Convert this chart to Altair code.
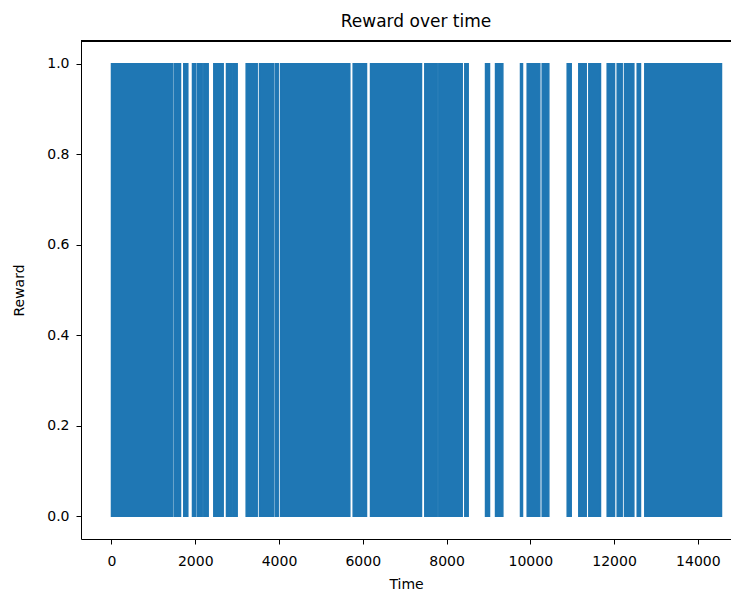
import altair as alt
import pandas as pd

# Time intervals where the reward signal flips densely between 0 and 1
block_start = [0, 1504, 1726, 1934, 2054, 2204, 2443, 2746, 2896, 3216, 3534, 3916,
               4035, 5771, 6185, 7481, 7815, 8436, 8931, 9170, 9766, 9926, 10284,
               10881, 11158, 11397, 11836, 12075, 12249, 12553, 12734]
block_end = [1464, 1648, 1822, 2013, 2166, 2309, 2667, 2865, 3001, 3479, 3875, 3981,
             5690, 6089, 7402, 7777, 8374, 8517, 9026, 9344, 9814, 10227, 10442,
             10977, 11335, 11676, 12011, 12194, 12472, 12631, 14565]

x_ticks = [0, 2000, 4000, 6000, 8000, 10000, 12000, 14000]
y_ticks = [0.0, 0.2, 0.4, 0.6, 0.8, 1.0]

df = pd.DataFrame({"start": block_start, "end": block_end})
df["low"] = 0.0
df["high"] = 1.0

W = 650
H = 498
x_scale = alt.Scale(domain=[-728, 14792], nice=False, zero=False)
y_scale = alt.Scale(domain=[-0.05, 1.05], nice=False, zero=False)

bars = alt.Chart(df).mark_rect(
    color="#1f77b4", stroke="#1f77b4", strokeWidth=1.5
).encode(
    x=alt.X("start:Q", scale=x_scale,
            axis=alt.Axis(title="Time", values=x_ticks, format="d",
                          labelPadding=10, titlePadding=9)),
    x2="end:Q",
    y=alt.Y("low:Q", scale=y_scale,
            axis=alt.Axis(title="Reward", values=y_ticks, format=".1f",
                          labelPadding=7, titlePadding=20)),
    y2="high:Q",
)

top_frame = alt.Chart(df).mark_rule(color="black", strokeWidth=1).encode(
    x=alt.value(0), x2=alt.value(W), y=alt.value(0)
)

chart = alt.layer(bars, top_frame).properties(
    width=W,
    height=H,
    title=alt.TitleParams("Reward over time", fontSize=17, font="DejaVu Sans",
                          fontWeight="normal", color="black", offset=10, dx=10),
    autosize=alt.AutoSizeParams(type="none"),
    padding={"left": 73, "top": 33, "right": 0, "bottom": 56},
).configure_view(
    strokeWidth=0
).configure_axis(
    grid=False,
    domainColor="black", domainWidth=1,
    tickColor="black", tickSize=5, tickWidth=1,
    labelColor="black", labelFont="DejaVu Sans", labelFontSize=14,
    titleColor="black", titleFont="DejaVu Sans", titleFontSize=14,
    titleFontWeight="normal",
)

chart.save("out.html", embed_options={"renderer": "svg", "actions": False})
